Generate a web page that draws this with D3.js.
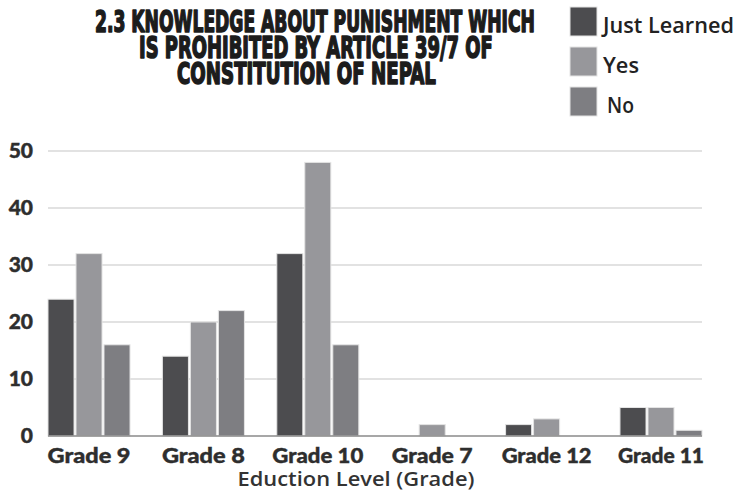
<!DOCTYPE html>
<html>
<head>
<meta charset="utf-8">
<script src="https://cdn.jsdelivr.net/npm/d3@7"></script>
<style>
  html, body { margin: 0; padding: 0; background: #fff; }
  svg { display: block; }
</style>
</head>
<body>
<svg id="chart" width="738" height="498"></svg>
<script>
// Survey answers by grade
const categories = ["Grade 9", "Grade 8", "Grade 10", "Grade 7", "Grade 12", "Grade 11"];
const seriesNames = ["Just Learned", "Yes", "No"];
const justLearned = [24, 14, 32, 0, 2, 5];
const yes = [32, 20, 48, 2, 3, 5];
const no = [16, 22, 16, 0, 0, 1];
const yTicks = [0, 10, 20, 30, 40, 50];
const titleLines = [
  "2.3 KNOWLEDGE ABOUT PUNISHMENT WHICH",
  "IS PROHIBITED BY ARTICLE 39/7 OF",
  "CONSTITUTION OF NEPAL"
];
const xAxisTitle = "Eduction Level (Grade)";

const seriesValues = [justLearned, yes, no];
const colors = ["#4c4c4f", "#97979b", "#7e7e82"];

const svg = d3.select("#chart");
const plot = { left: 48, right: 702, top: 151, bottom: 436 };

// Stretch or squeeze a text horizontally to a given width around its anchor x
function fitWidth(node, width, anchorX) {
  const w = node.getComputedTextLength();
  if (!w) return;
  const sx = width / w;
  node.setAttribute("transform",
    `translate(${anchorX},0) scale(${sx},1) translate(${-anchorX},0)`);
}

const x = d3.scaleBand().domain(categories)
  .range([plot.left, plot.right]).paddingInner(0.283).paddingOuter(0);
const xs = d3.scaleBand().domain(seriesNames)
  .range([0, x.bandwidth()]).paddingInner(0.07);
const y = d3.scaleLinear().domain([0, 50]).range([plot.bottom, plot.top]);

// Gridlines
svg.append("g").selectAll("line").data(yTicks.filter(d => d > 0)).join("line")
  .attr("x1", plot.left).attr("x2", plot.right)
  .attr("y1", d => y(d)).attr("y2", d => y(d))
  .attr("stroke", "#d8d8d8").attr("stroke-width", 1.5);

// Y tick labels
const yAxis = d3.axisLeft(y).tickValues(yTicks).tickSize(0).tickPadding(15);
const gy = svg.append("g").attr("transform", `translate(${plot.left},0)`).call(yAxis);
gy.select(".domain").remove();
gy.selectAll("text")
  .attr("font-family", "Lato, 'Open Sans', sans-serif")
  .attr("font-weight", 900).attr("font-size", 21).attr("fill", "#2e2e2e")
  .attr("stroke", "#2e2e2e").attr("stroke-width", 0.4);

// Bars
const rows = categories.map((c, i) => ({ c, vals: seriesNames.map((s, k) => ({ s, v: seriesValues[k][i], k })) }));
const groups = svg.append("g").selectAll("g").data(rows).join("g")
  .attr("transform", d => `translate(${x(d.c)},0)`);
groups.selectAll("rect").data(d => d.vals.filter(e => e.v > 0)).join("rect")
  .attr("x", d => xs(d.s))
  .attr("y", d => y(d.v))
  .attr("width", xs.bandwidth())
  .attr("height", d => y(0) - y(d.v))
  .attr("fill", d => colors[d.k])
  .attr("stroke", "#e4e4e4").attr("stroke-width", 1);

// Baseline
svg.append("line")
  .attr("x1", plot.left).attr("x2", plot.right)
  .attr("y1", y(0)).attr("y2", y(0))
  .attr("stroke", "#8a8a8a").attr("stroke-width", 1.5);

// X axis category labels
const labelWidths = { "Grade 9": 83, "Grade 8": 83, "Grade 10": 91, "Grade 7": 81, "Grade 12": 90, "Grade 11": 86 };
const xAxis = d3.axisBottom(x).tickSize(0).tickPadding(12);
const gx = svg.append("g").attr("transform", `translate(0,${plot.bottom})`).call(xAxis);
gx.select(".domain").remove();
gx.selectAll("text")
  .attr("font-family", "Lato, 'Open Sans', sans-serif")
  .attr("font-weight", 900).attr("font-size", 21).attr("fill", "#2e2e2e")
  .attr("stroke", "#2e2e2e").attr("stroke-width", 0.4)
  .each(function (d) { fitWidth(this, labelWidths[d], 0); });

// X axis title
svg.append("text")
  .attr("x", 356).attr("y", 486).attr("text-anchor", "middle")
  .attr("font-family", "'Open Sans', Lato, sans-serif")
  .attr("font-weight", 600).attr("font-size", 20).attr("fill", "#333")
  .text(xAxisTitle)
  .each(function () { fitWidth(this, 237, 356); });

// Title
const titleStarts = [95, 139, 177];
const titleWidths = [440, 354, 259];
const titleBase = [32, 58, 84];
svg.append("g").selectAll("text").data(titleLines).join("text")
  .attr("x", (d, i) => titleStarts[i])
  .attr("y", (d, i) => titleBase[i])
  .attr("font-family", "'Liberation Sans Narrow', 'DejaVu Sans Condensed', 'Liberation Sans', sans-serif")
  .attr("font-weight", 700).attr("font-size", 29.5)
  .attr("fill", "#1c1c1c").attr("stroke", "#1c1c1c").attr("stroke-width", 1.6)
  .attr("stroke-linejoin", "round")
  .text(d => d)
  .each(function (d, i) { fitWidth(this, titleWidths[i], titleStarts[i]); });

// Legend
const legendY = [7, 47, 87];
const legendTextX = [603, 603, 607];
const legendTextW = [131, 36, 27];
const legend = svg.append("g").selectAll("g").data(seriesNames).join("g");
legend.append("rect")
  .attr("x", 570).attr("y", (d, i) => legendY[i])
  .attr("width", 27).attr("height", 29)
  .attr("fill", (d, i) => colors[i])
  .attr("stroke", "#e4e4e4").attr("stroke-width", 1);
legend.append("text")
  .attr("x", (d, i) => legendTextX[i])
  .attr("y", (d, i) => legendY[i] + 26)
  .attr("font-family", "'Open Sans', Lato, sans-serif")
  .attr("font-weight", 600).attr("font-size", 22).attr("fill", "#222")
  .text(d => d)
  .each(function (d, i) { fitWidth(this, legendTextW[i], legendTextX[i]); });
</script>
</body>
</html>
